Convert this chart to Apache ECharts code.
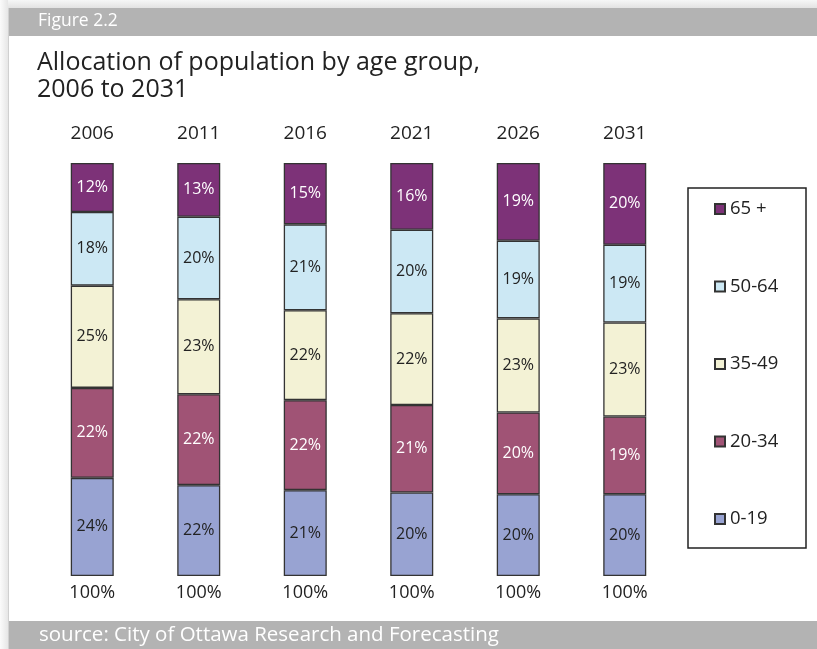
<!DOCTYPE html>
<html>
<head>
<meta charset="utf-8">
<title>Allocation of population by age group, 2006 to 2031</title>
<script src="https://cdn.jsdelivr.net/npm/echarts@6/dist/echarts.min.js"></script>
<style>
  html, body { margin: 0; padding: 0; background: #ffffff; }
  #chart { width: 817px; height: 649px; }
</style>
</head>
<body>
<div id="chart"></div>
<script>
// Census years shown across the top, and the column totals shown underneath
const years = ['2006', '2011', '2016', '2021', '2026', '2031'];
const totalLabels = ['100%', '100%', '100%', '100%', '100%', '100%'];

// Share of population (%) in each age group, per year
const age0to19 = [24, 22, 21, 20, 20, 20];
const age20to34 = [22, 22, 22, 21, 20, 19];
const age35to49 = [25, 23, 22, 22, 23, 23];
const age50to64 = [18, 20, 21, 20, 19, 19];
const age65plus = [12, 13, 15, 16, 19, 20];

const groupNames = ['0-19', '20-34', '35-49', '50-64', '65 +'];
const groupValues = [age0to19, age20to34, age35to49, age50to64, age65plus];
const groupColors = ['#98a3d2', '#a05375', '#f3f2d5', '#cce8f4', '#7d3278'];
const labelColors = ['#222222', '#ffffff', '#222222', '#222222', '#ffffff'];

// Rounded shares do not always add to exactly 100, so each column is
// scaled to a full 100% stack while the labels keep the stated shares.
const columnTotals = years.map((_, i) =>
  groupValues.reduce((s, arr) => s + arr[i], 0));

const series = groupNames.map((name, g) => ({
  name: name,
  type: 'bar',
  stack: 'all',
  barWidth: 43,
  data: groupValues[g].map((v, i) => ({ value: v * 100 / columnTotals[i], share: v })),
  itemStyle: { color: groupColors[g], borderColor: '#333333', borderWidth: 1.3 },
  label: {
    show: true,
    position: 'inside',
    color: labelColors[g],
    fontFamily: 'Open Sans',
    fontSize: 16,
    formatter: p => p.data.share + '%'
  },
  emphasis: { disabled: true }
}));

const chart = echarts.init(document.getElementById('chart'), null, { renderer: 'canvas' });

chart.setOption({
  animation: false,
  backgroundColor: '#ffffff',
  textStyle: { fontFamily: 'Open Sans' },
  grid: { left: 39, top: 163, width: 639, height: 413, containLabel: false },
  xAxis: [
    {
      type: 'category',
      position: 'top',
      data: years,
      axisLine: { show: false },
      axisTick: { show: false },
      axisLabel: { color: '#222222', fontSize: 19, margin: 20, fontFamily: 'Open Sans' }
    },
    {
      type: 'category',
      position: 'bottom',
      data: totalLabels,
      axisLine: { show: false },
      axisTick: { show: false },
      axisLabel: { color: '#222222', fontSize: 18, margin: 8, fontFamily: 'Open Sans' }
    }
  ],
  yAxis: { type: 'value', min: 0, max: 100, show: false, splitLine: { show: false } },
  legend: {
    orient: 'vertical',
    left: 714,
    top: 198,
    padding: 0,
    data: groupNames.slice().reverse(),
    icon: 'rect',
    itemWidth: 10,
    itemHeight: 10,
    itemGap: 55.5,
    textStyle: { color: '#222222', fontSize: 18.5, lineHeight: 22, fontFamily: 'Open Sans' },
    selectedMode: false
  },
  series: series,
  graphic: [
    // page shadow along the top and left edges
    { type: 'rect', silent: true, z: -10, shape: { x: 0, y: 0, width: 817, height: 8 },
      style: { fill: new echarts.graphic.LinearGradient(0, 0, 0, 1, [
        { offset: 0, color: '#f6f7f7' }, { offset: 1, color: '#e3e3e3' }]) } },
    { type: 'rect', silent: true, z: -10, shape: { x: 0, y: 0, width: 8, height: 649 },
      style: { fill: new echarts.graphic.LinearGradient(0, 0, 1, 0, [
        { offset: 0, color: '#fbfbfb' }, { offset: 1, color: '#e6e6e6' }]) } },
    { type: 'rect', silent: true, z: -9, shape: { x: 8, y: 8, width: 1, height: 641 },
      style: { fill: '#d0d0d0' } },
    // header band
    { type: 'rect', silent: true, shape: { x: 9, y: 8, width: 808, height: 28 },
      style: { fill: '#b3b3b3' } },
    { type: 'text', silent: true, left: 38, top: 12,
      style: { text: 'Figure 2.2', fill: '#ffffff', fontSize: 17.5, fontFamily: 'Open Sans' } },
    // title
    { type: 'text', silent: true, left: 37, top: 49,
      style: { text: 'Allocation of population by age group,\n2006 to 2031', fill: '#222222',
               fontSize: 25, lineHeight: 27, fontFamily: 'Open Sans' } },
    // legend frame
    { type: 'rect', silent: true, shape: { x: 688, y: 188, width: 118, height: 360 },
      style: { fill: 'none', stroke: '#222222', lineWidth: 1.5 } },
    // footer band
    { type: 'rect', silent: true, shape: { x: 9, y: 621, width: 808, height: 28 },
      style: { fill: '#b3b3b3' } },
    { type: 'text', silent: true, left: 39, top: 625,
      style: { text: 'source: City of Ottawa Research and Forecasting', fill: '#ffffff',
               fontSize: 20.5, fontFamily: 'Open Sans' } }
  ]
});
</script>
</body>
</html>
